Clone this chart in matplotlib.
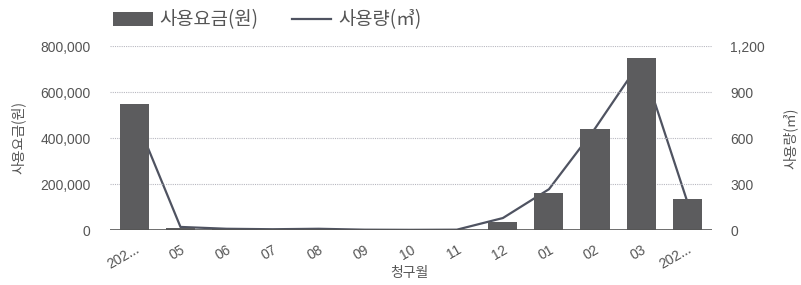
import matplotlib
matplotlib.use("Agg")
import matplotlib.pyplot as plt
from matplotlib.patches import Patch
from matplotlib.lines import Line2D

plt.rcParams['font.family'] = ['Noto Sans CJK KR', 'DejaVu Sans']

categories = ["202...", "05", "06", "07", "08", "09", "10", "11", "12", "01", "02", "03", "202..."]
charges = [549000, 10000, 4000, 3000, 5000, 2000, 1000, 1000, 33000, 160000, 441000, 748000, 134000]
usage = [750, 20, 8, 5, 8, 2, 1, 2, 78, 266, 662, 1105, 188]
left_ticks = [0, 200000, 400000, 600000, 800000]
right_ticks = [0, 300, 600, 900, 1200]

bar_color = "#5c5c5e"
line_color = "#4f5361"
text_color = "#555555"

fig = plt.figure(figsize=(8.01, 2.85), dpi=100)
ax = fig.add_axes([110/801, 55/285, 602/801, 184/285])
ax2 = ax.twinx()

x = list(range(len(categories)))
ax.bar(x, charges, width=0.63, color=bar_color, zorder=3)
ax2.plot(x, usage, color=line_color, lw=1.6, zorder=2)

ax.set_zorder(ax2.get_zorder() + 1)
ax.patch.set_visible(False)

ax.set_xlim(-0.53, 12.54)
ax.set_ylim(0, 800000)
ax2.set_ylim(0, 1200)
ax.set_yticks(left_ticks)
ax.set_yticklabels([f"{v:,}" for v in left_ticks])
ax2.set_yticks(right_ticks)
ax2.set_yticklabels([f"{v:,}" for v in right_ticks])

for a in (ax, ax2):
    for s in a.spines.values():
        s.set_visible(False)
    a.tick_params(length=0, colors=text_color, labelsize=10)

ax.tick_params(axis='y', pad=14)
ax2.tick_params(axis='y', pad=13)
for lbl in ax.get_yticklabels() + ax2.get_yticklabels():
    lbl.set_family(['Liberation Sans', 'DejaVu Sans'])

ax.set_xticks(x)
ax.set_xticklabels(categories, rotation=30, ha='right', rotation_mode='anchor',
                   family=['Liberation Sans', 'DejaVu Sans'])
ax.tick_params(axis='x', pad=9)

ax.grid(axis='y', color='#b8b8c0', linestyle=(0, (1, 1)), lw=0.8, zorder=0)
ax.axhline(0, color='#555555', lw=1.2, zorder=4)

ax.set_ylabel("사용요금(원)", color=text_color, fontsize=10)
ax.yaxis.set_label_coords(-0.153, 0.5)
ax2.set_ylabel("사용량(㎥)", color=text_color, fontsize=10, rotation=90)
ax2.yaxis.set_label_coords(1.13, 0.5)
ax.set_xlabel("청구월", color=text_color, fontsize=10, style='italic')
ax.xaxis.set_label_coords(0.498, -0.235)
ax.xaxis.label.set_va('center')
ax.yaxis.label.set_va('center')
ax2.yaxis.label.set_va('center')

handles = [Patch(facecolor=bar_color, edgecolor='none'),
           Line2D([0], [0], color=line_color, lw=1.6)]
leg = fig.legend(handles, ["사용요금(원)", "사용량(㎥)"], loc='upper left',
                 bbox_to_anchor=(104/801, 1.0), ncol=2, frameon=False,
                 fontsize=13.5, handlelength=2.1, handleheight=0.8,
                 handletextpad=0.35, columnspacing=1.8, borderaxespad=0.1)
for t in leg.get_texts():
    t.set_color(text_color)

fig.savefig("out.png", dpi=100)
